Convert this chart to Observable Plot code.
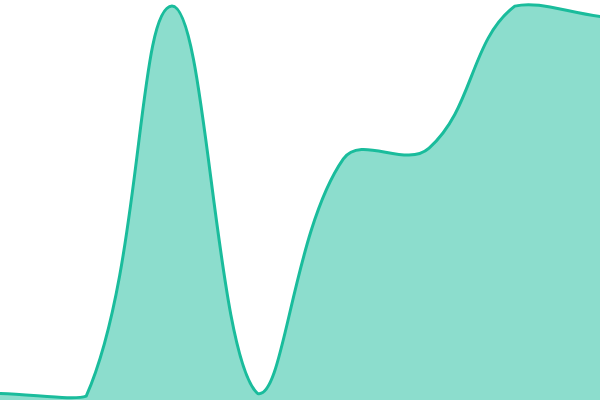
<!DOCTYPE html>
<html>
<head>
<meta charset="utf-8">
<script src="https://cdn.jsdelivr.net/npm/d3@7"></script>
<script src="https://cdn.jsdelivr.net/npm/@observablehq/plot@0.6"></script>
<style>
  html, body { margin: 0; padding: 0; background: #fff; }
  #chart svg { display: block; }
</style>
</head>
<body>
<div id="chart"></div>
<script>
const steps = [0, 1, 2, 3, 4, 5, 6, 7];
const values = [1.75, 1.1, 98.6, 1.75, 60.4, 63.1, 98.6, 96.0];

const data = steps.map((s, i) => ({step: s, value: values[i]}));

const W = 600, H = 400;

// Distance-weighted cubic spline (tension 0.4) with control points kept inside the frame
function tensionSpline(tension, xmin, xmax, ymin, ymax) {
  const cx = v => Math.max(xmin, Math.min(xmax, v));
  const cy = v => Math.max(ymin, Math.min(ymax, v));
  function Curve(context) { this._context = context; }
  Curve.prototype = {
    areaStart() { this._line = 0; },
    areaEnd() { this._line = NaN; },
    lineStart() { this._pts = []; },
    point(x, y) { this._pts.push([+x, +y]); },
    lineEnd() {
      const p = this._pts, n = p.length, c = this._context;
      if (n) {
        if (this._line) c.lineTo(p[0][0], p[0][1]); else c.moveTo(p[0][0], p[0][1]);
        const cp = p.map((cur, i) => {
          const prev = i > 0 ? p[i - 1] : cur;
          const next = i < n - 1 ? p[i + 1] : cur;
          const d01 = Math.hypot(cur[0] - prev[0], cur[1] - prev[1]);
          const d12 = Math.hypot(next[0] - cur[0], next[1] - cur[1]);
          let s01 = d01 / (d01 + d12), s12 = d12 / (d01 + d12);
          if (isNaN(s01)) s01 = 0;
          if (isNaN(s12)) s12 = 0;
          const fa = tension * s01, fb = tension * s12;
          return {
            prev: [cx(cur[0] - fa * (next[0] - prev[0])), cy(cur[1] - fa * (next[1] - prev[1]))],
            next: [cx(cur[0] + fb * (next[0] - prev[0])), cy(cur[1] + fb * (next[1] - prev[1]))]
          };
        });
        for (let i = 1; i < n; i++) {
          c.bezierCurveTo(cp[i - 1].next[0], cp[i - 1].next[1], cp[i].prev[0], cp[i].prev[1], p[i][0], p[i][1]);
        }
      }
      if (this._line || (this._line !== 0 && n === 1)) c.closePath();
      this._line = 1 - this._line;
    }
  };
  return context => new Curve(context);
}

const curve = tensionSpline(0.4, 0, W, 0, H);

const chart = Plot.plot({
  width: W,
  height: H,
  margin: 0,
  x: {domain: [0, 7], axis: null},
  y: {domain: [0, 100], axis: null},
  marks: [
    Plot.areaY(data, {x: "step", y: "value", curve, fill: "#1abc9c", fillOpacity: 0.5}),
    Plot.lineY(data, {x: "step", y: "value", curve, stroke: "#1abc9c", strokeWidth: 3})
  ]
});
document.getElementById("chart").appendChild(chart);
</script>
</body>
</html>
